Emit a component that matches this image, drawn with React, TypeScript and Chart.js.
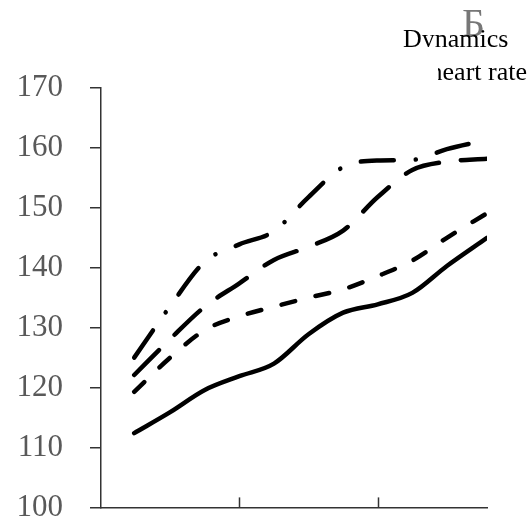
import React, { useEffect, useRef } from "react";
import { Chart, registerables } from "chart.js";

Chart.register(...registerables);

// x positions of the sampled points (axis units; tick marks at 1 and 2)
const xValues = [0.24, 0.5, 0.75, 1.0, 1.25, 1.5, 1.75, 2.0, 2.25, 2.5, 2.79];
// heart rate series
const seriesSolid = [112.4, 115.9, 119.6, 121.9, 124.0, 128.9, 132.5, 133.9, 135.8, 140.3, 145.0];
const seriesShortDash = [119.3, 125.0, 129.6, 131.9, 133.5, 135.0, 136.4, 138.6, 141.2, 145.0, 149.1];
const seriesLongDash = [122.1, 128.1, 133.5, 137.4, 141.3, 143.5, 146.2, 151.8, 156.3, 157.7, 158.2];
const seriesDashDot = [125.0, 133.6, 141.0, 143.9, 146.1, 151.8, 156.8, 157.9, 158.0, 159.8, 161.3];
const yMin = 100;
const yMax = 170;
const yStep = 10;
const xMax = 2.79;
const xTickMarks = [1, 2];
const titleLetter = "Б";
const titleLine1 = "Dynamics";
const titleLine2 = "heart rate";

const toPoints = (ys: number[]) => ys.map((y, i) => ({ x: xValues[i], y }));

const decorPlugin = {
  id: "decor",
  afterDraw(chart: any) {
    const ctx = chart.ctx as CanvasRenderingContext2D;
    const { bottom } = chart.chartArea;
    const xs = chart.scales.x;
    ctx.save();
    ctx.strokeStyle = "#333";
    ctx.lineWidth = 1.5;
    for (const v of xTickMarks) {
      const px = Math.round(xs.getPixelForValue(v)) + 0.5;
      ctx.beginPath();
      ctx.moveTo(px, bottom);
      ctx.lineTo(px, bottom - 10);
      ctx.stroke();
    }
    ctx.textBaseline = "alphabetic";
    ctx.textAlign = "left";
    ctx.fillStyle = "#777";
    ctx.font = '40px "Liberation Serif"';
    ctx.fillText(titleLetter, 462, 36);
    ctx.fillStyle = "#000";
    ctx.font = '26px "Liberation Serif"';
    ctx.fillText(titleLine1, 403, 47);
    ctx.fillStyle = "#fff";
    ctx.fillRect(395, 47, 135, 40);
    ctx.beginPath();
    ctx.rect(438, 47, 92, 40);
    ctx.clip();
    ctx.fillStyle = "#000";
    ctx.textAlign = "right";
    ctx.fillText(titleLine2, 527, 80);
    ctx.restore();
  },
};

export default function App() {
  const ref = useRef<HTMLCanvasElement>(null);
  useEffect(() => {
    if (!ref.current) return;
    const common = {
      borderColor: "#000",
      borderWidth: 4.5,
      borderCapStyle: "round",
      borderJoinStyle: "round",
      pointRadius: 0,
      fill: false,
      cubicInterpolationMode: "monotone",
    };
    const chart = new Chart(ref.current, {
      type: "line",
      data: {
        datasets: [
          { ...common, label: "solid", data: toPoints(seriesSolid) },
          { ...common, label: "short dash", data: toPoints(seriesShortDash), borderDash: [14, 21] },
          { ...common, label: "long dash", data: toPoints(seriesLongDash), borderDash: [35, 22] },
          { ...common, label: "dash dot", data: toPoints(seriesDashDot), borderDash: [33, 22, 0.1, 22] },
        ] as any,
      },
      options: {
        responsive: false,
        animation: false,
        devicePixelRatio: 1,
        layout: { padding: { top: 88, right: 43, bottom: 20, left: 0 } },
        plugins: {
          legend: { display: false },
          tooltip: { enabled: false },
          title: { display: false },
        },
        scales: {
          x: {
            type: "linear",
            min: 0,
            max: xMax,
            ticks: { display: false },
            grid: { display: false, drawTicks: false },
            border: { display: true, color: "#333", width: 1.5 },
            afterFit: (s: any) => {
              s.height = 0;
            },
          },
          y: {
            min: yMin,
            max: yMax,
            ticks: {
              stepSize: yStep,
              font: { family: '"Liberation Serif"', size: 31 },
              color: "#595959",
              padding: 27,
            },
            grid: {
              display: true,
              drawOnChartArea: false,
              drawTicks: true,
              tickLength: 11,
              color: "#333",
              lineWidth: 1.5,
            },
            border: { display: true, color: "#333", width: 1.5 },
            afterFit: (s: any) => {
              s.width = 101;
            },
          },
        },
      } as any,
      plugins: [decorPlugin],
    });
    return () => chart.destroy();
  }, []);
  return (
    <div
      style={{
        position: "fixed",
        left: 0,
        top: 0,
        width: 530,
        height: 517,
        overflow: "hidden",
        background: "#fff",
      }}
    >
      <canvas ref={ref} width={530} height={553} style={{ display: "block" }} />
    </div>
  );
}
